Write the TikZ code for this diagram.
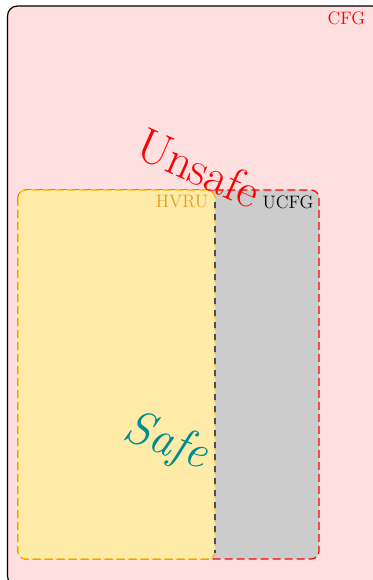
\documentclass[tikz,border=0pt]{standalone}
\usepackage{xcolor}

\definecolor{cfgpink}{RGB}{255,224,225}
\definecolor{hvruyellow}{RGB}{255,235,168}
\definecolor{hvruorange}{RGB}{255,180,0}
\definecolor{hvrutext}{RGB}{224,160,32}
\definecolor{ucfggray}{RGB}{204,204,204}
\definecolor{safeteal}{RGB}{0,140,140}

\tikzset{every picture/.style={line width=0.75pt}}
\tikzset{
  setbox/.style={rounded corners=6pt, line width=0.9pt, dash pattern=on 6pt off 3pt},
  setlabel/.style={font=\fontsize{13.5}{14}\selectfont, inner sep=0pt},
  bigword/.style={font=\fontsize{36}{36}\selectfont, inner sep=0pt}
}

\begin{document}
\begin{tikzpicture}[x=0.75pt,y=0.75pt,yscale=-1,xscale=1]
\useasboundingbox (0,0) rectangle (373,580);
\clip (0,0) rectangle (373,580);

%Shape: Rounded Rect [id:cfg] 
\draw [fill=cfgpink, line width=0.9pt, rounded corners=7.5pt] (7.5,6) rectangle (382,586);
%Shape: Rounded Rect [id:ucfg] 
\draw [setbox, draw=red, fill=ucfggray] (18,190) rectangle (319,559);
%Shape: Rounded Rect [id:hvru] 
\draw [setbox, draw=hvruorange, fill=hvruyellow] (18,190) rectangle (215,559);
%Straight Lines [id:border] 
\coordinate (bordertop) at (215,196);
\coordinate (borderbot) at (215,553);
\draw [black!70, line width=0.9pt, dash pattern=on 4.5pt off 4.5pt, dash phase=4.5pt] (bordertop) -- (borderbot);

% Text Node
\node (cfg) [setlabel, text=red] at (346.5,18.5) {CFG};
% Text Node
\node (hvru) [setlabel, text=hvrutext] at (182,202) {HVRU};
% Text Node
\node (ucfg) [setlabel, text=black] at (288,202) {UCFG};
% Text Node
\node (unsafe) [bigword, text=red, rotate=-24] at (199,168) {Unsafe};
% Text Node
\node (safe) [bigword, text=safeteal, rotate=-21] at (166,443) {\itshape Safe};

\end{tikzpicture}
\end{document}
